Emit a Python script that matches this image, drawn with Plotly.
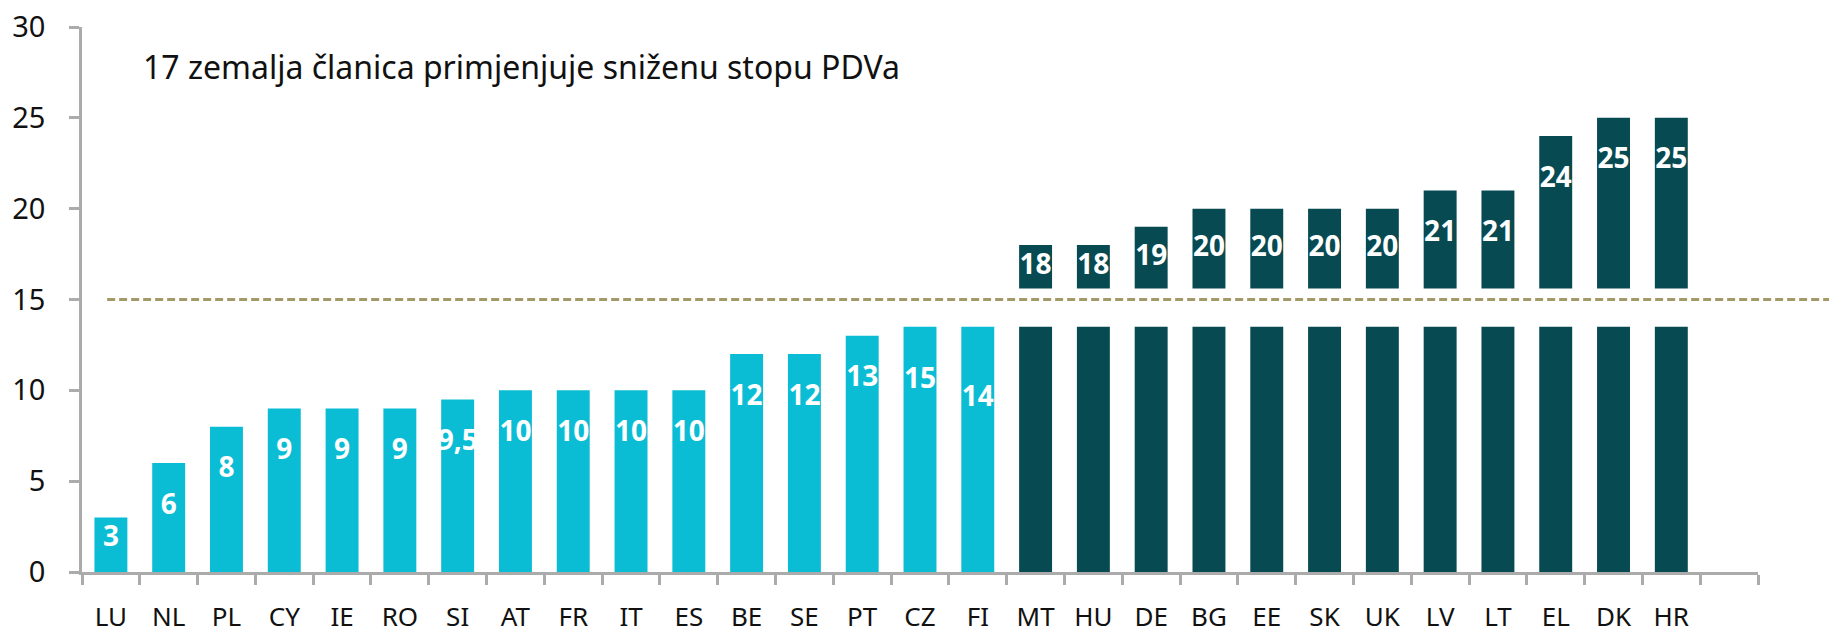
import plotly.graph_objects as go

countries = ["LU", "NL", "PL", "CY", "IE", "RO", "SI", "AT", "FR", "IT", "ES", "BE", "SE", "PT",
             "CZ", "FI", "MT", "HU", "DE", "BG", "EE", "SK", "UK", "LV", "LT", "EL", "DK", "HR"]
rates = [3, 6, 8, 9, 9, 9, 9.5, 10, 10, 10, 10, 12, 12, 13,
         15, 14, 18, 18, 19, 20, 20, 20, 20, 21, 21, 24, 25, 25]
reduced = [True] * 16 + [False] * 12
title_text = "17 zemalja članica primjenjuje sniženu stopu PDVa"
y_ticks = [0, 5, 10, 15, 20, 25, 30]
threshold = 15

# axis-break styling
BREAK_LOW = 13.5
BREAK_HIGH = 15.6
LABEL_DROP = 2.4

LIGHT = "#0BBDD4"
DARK = "#084A52"
FONT = "Noto Sans"


def fmt(v):
    s = ("%g" % v)
    return s.replace(".", ",")


light_x = [c for c, r in zip(countries, reduced) if r]
light_y = [min(v, BREAK_LOW) for v, r in zip(rates, reduced) if r]
dark_x = [c for c, r in zip(countries, reduced) if not r]
dark_low = [BREAK_LOW for r in reduced if not r]
dark_up = [v - BREAK_HIGH for v, r in zip(rates, reduced) if not r]

label_y = []
for v, r in zip(rates, reduced):
    if r:
        top = v if v <= BREAK_LOW else v - (BREAK_HIGH - BREAK_LOW)
        label_y.append(max(top - LABEL_DROP, 0.6 * top))
    else:
        label_y.append(max(v - LABEL_DROP, BREAK_HIGH + 0.5 * (v - BREAK_HIGH)))

fig = go.Figure()
fig.add_trace(go.Bar(x=light_x, y=light_y, marker_color=LIGHT, marker_line_width=0,
                     hoverinfo="skip"))
fig.add_trace(go.Bar(x=dark_x, y=dark_low, marker_color=DARK, marker_line_width=0,
                     hoverinfo="skip"))
fig.add_trace(go.Bar(x=dark_x, y=dark_up, base=[BREAK_HIGH] * len(dark_x),
                     marker_color=DARK, marker_line_width=0, hoverinfo="skip"))
fig.add_trace(go.Scatter(x=countries, y=label_y, mode="text",
                         text=[fmt(v) for v in rates],
                         textfont=dict(family=FONT, size=28, color="white", weight="bold"),
                         hoverinfo="skip"))

fig.add_shape(type="line", xref="paper", yref="y", x0=0.015, x1=1.043,
              y0=threshold, y1=threshold,
              line=dict(color="#A39A68", width=3, dash="8px,4px"))

fig.add_annotation(text=title_text, xref="paper", yref="paper", x=0.035, y=0.9275,
                   xanchor="left", yanchor="middle", showarrow=False,
                   font=dict(family=FONT, size=32, color="#111111"))

fig.update_layout(
    width=1829, height=636,
    margin=dict(l=82, r=71, t=27, b=64, autoexpand=False),
    plot_bgcolor="white", paper_bgcolor="white",
    barmode="overlay", bargap=0.43,
    showlegend=False,
    font=dict(family=FONT, size=24, color="#111111"),
)
fig.update_xaxes(
    type="category", categoryorder="array", categoryarray=countries + [" "],
    range=[-0.5, len(countries) + 0.5], automargin=False,
    showline=True, linecolor="#ABABAB", linewidth=2.5,
    ticks="outside", tickson="boundaries", ticklen=10, tickwidth=2.5, tickcolor="#ABABAB",
    tickfont=dict(family=FONT, size=26, color="#111111"), ticklabelstandoff=20,
    showgrid=False, zeroline=False,
)
fig.update_yaxes(
    range=[0, 30], tickvals=y_ticks, automargin=False,
    showline=True, linecolor="#ABABAB", linewidth=2.5,
    ticks="outside", ticklen=10, tickwidth=2.5, tickcolor="#ABABAB",
    tickfont=dict(family=FONT, size=29, color="#111111"), ticklabelstandoff=18,
    showgrid=False, zeroline=False,
)

fig.write_html("out.html", config={"displayModeBar": False},
               post_script="document.body.style.margin='0';")
